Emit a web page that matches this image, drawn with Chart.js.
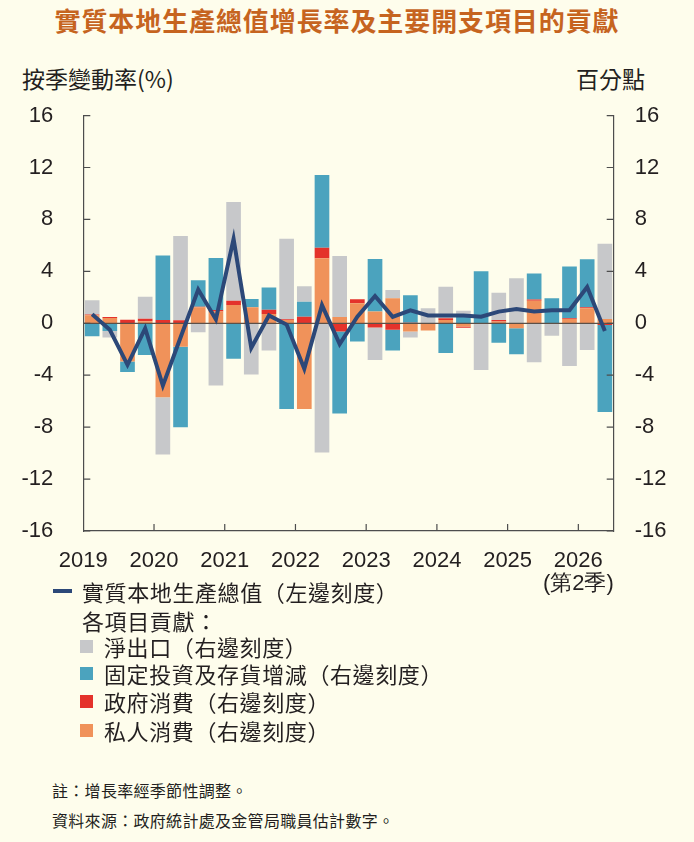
<!DOCTYPE html>
<html lang="zh-Hant">
<head>
<meta charset="utf-8">
<title>實質本地生產總值增長率及主要開支項目的貢獻</title>
<script src="https://cdn.jsdelivr.net/npm/chart.js@4.4.1/dist/chart.umd.min.js"></script>
<style>
  body {
    margin: 0;
    width: 694px;
    height: 842px;
    position: relative;
    overflow: hidden;
    background: #fefdec;
    font-family: 'Noto Sans CJK TC', 'Noto Sans', sans-serif;
    color: #231f20;
  }
  .abs { position: absolute; white-space: nowrap; }
  #title {
    left: -10px; width: 694px; top: 6px;
    text-align: center;
    font-size: 26px; line-height: 28px; font-weight: bold;
    letter-spacing: 0.9px;
    color: #c6641f;
  }
  .unit { top: 66px; font-size: 23px; line-height: 24px; }
  /* chart area lands at 83..614 x 115..531 */
  #wrap { position: absolute; left: 0; top: 74px; width: 694px; height: 537px; }
  .leg { font-size: 22px; line-height: 26px; letter-spacing: 0.6px; }
  .sw { position: absolute; width: 13px; height: 13px; }
  .note { font-size: 16px; line-height: 20px; left: 52px; letter-spacing: 0.3px; }
</style>
</head>
<body>
<div id="title" class="abs">實質本地生產總值增長率及主要開支項目的貢獻</div>
<div class="abs unit" style="left:22px">按季變動率(%)</div>
<div class="abs unit" style="right:49px">百分點</div>

<div id="wrap"><canvas id="gdpChart"></canvas></div>

<div class="abs" style="left:53px; top:589px; width:19px; height:4px; background:#2c4878"></div>
<div class="abs leg" style="left:82px; top:578px">實質本地生產總值（左邊刻度）</div>
<div class="abs leg" style="left:82px; top:607px">各項目貢獻：</div>
<div class="sw" style="left:80px; top:640px; background:#c7c8ca"></div>
<div class="abs leg" style="left:104px; top:633px">淨出口（右邊刻度）</div>
<div class="sw" style="left:80px; top:667px; background:#4ba3be"></div>
<div class="abs leg" style="left:104px; top:660px">固定投資及存貨增減（右邊刻度）</div>
<div class="sw" style="left:80px; top:695px; background:#e4322b"></div>
<div class="abs leg" style="left:104px; top:688px">政府消費（右邊刻度）</div>
<div class="sw" style="left:80px; top:724px; background:#f0925a"></div>
<div class="abs leg" style="left:104px; top:717px">私人消費（右邊刻度）</div>

<div class="abs note" style="top:780px">註：增長率經季節性調整。</div>
<div class="abs note" style="top:810px">資料來源：政府統計處及金管局職員估計數字。</div>

<script>
// quarters 2019 Q1 .. 2026 Q2
const quarters = [
    '2019Q1', '2019Q2', '2019Q3', '2019Q4',
    '2020Q1', '2020Q2', '2020Q3', '2020Q4',
    '2021Q1', '2021Q2', '2021Q3', '2021Q4',
    '2022Q1', '2022Q2', '2022Q3', '2022Q4',
    '2023Q1', '2023Q2', '2023Q3', '2023Q4',
    '2024Q1', '2024Q2', '2024Q3', '2024Q4',
    '2025Q1', '2025Q2', '2025Q3', '2025Q4',
    '2026Q1', '2026Q2'
];

// real GDP, qoq % (left scale)
const gdpGrowth = [
    0.7, -0.5, -3.2, -0.4,
    -4.8, -1.1, 2.6, 0.3,
    6.5, -1.9, 0.6, -0.1,
    -3.5, 1.4, -1.6, 0.5,
    2.1, 0.5, 1.0, 0.6,
    0.6, 0.6, 0.5, 0.9,
    1.1, 0.9, 1.0, 1.0,
    2.8, -0.6
];

// contributions, percentage points (right scale)
const privateConsumption = [
    0.62, 0.41, -2.95, 0.15,
    -5.7, -1.8, 1.23, 0.9,
    1.41, 1.23, 0.72, 0.26,
    -6.6, 5.0, 0.49, 1.54,
    0.9, 1.92, -0.64, -0.56,
    0.25, -0.25, 0, 0.13,
    -0.38, 1.74, 0, 0.33,
    1.15, 0.33
];
const govConsumption = [
    0.05, 0.08, 0.28, 0.2,
    0.25, 0.23, 0.05, 0.13,
    0.33, 0, 0.33, 0.05,
    0.51, 0.82, -0.64, 0.31,
    -0.33, -0.5, 0.05, 0,
    0.13, -0.1, 0, 0.13,
    0, 0.1, 0, 0.05,
    0.08, -0.13
];
const investment = [
    -1.0, -0.6, -0.8, -2.45,
    4.97, -6.2, 2.03, 4.0,
    -2.74, 0.64, 1.7, -6.6,
    1.15, 5.6, -6.3, -1.4,
    4.05, -1.6, 2.1, 0,
    -2.28, 0.64, 4.0, -1.5,
    -2.0, 2.0, 1.92, 4.0,
    3.7, -6.7
];
const netExports = [
    1.1, -0.5, 0, 1.7,
    -4.4, 6.5, -0.7, -4.8,
    7.6, -3.95, -2.1, 6.2,
    1.2, -9.95, 4.7, 0,
    -2.5, 0.64, -0.46, 1.15,
    2.44, 0.33, -3.6, 2.1,
    3.46, -3.0, -0.97, -3.3,
    -2.05, 5.8
];

// year ticks sit on the quarter boundaries
const yearTicks = [0, 4, 8, 12, 16, 20, 24, 28];
const yearLabels = ['2019', '2020', '2021', '2022', '2023', '2024', '2025', ['2026', '(第2季)']];
const valueTicks = [-16, -12, -8, -4, 0, 4, 8, 12, 16];

const toPoints = (arr) => arr.map((v, i) => ({ x: i + 0.5, y: v }));

const axisColor = '#4d4d4d';

// inward tick marks + zero line under the GDP line
const chartMarks = {
    id: 'chartMarks',
    beforeDatasetDraw(chart, args) {
        if (args.index !== 0) return;
        const { ctx, chartArea } = chart;
        const y0 = chart.scales.y.getPixelForValue(0);
        ctx.save();
        ctx.strokeStyle = '#5c5047';
        ctx.lineWidth = 1.2;
        ctx.beginPath();
        ctx.moveTo(chartArea.left, y0);
        ctx.lineTo(chartArea.right, y0);
        ctx.stroke();
        ctx.restore();
    },
    afterDraw(chart) {
        const { ctx, chartArea } = chart;
        const len = 7;
        ctx.save();
        ctx.strokeStyle = axisColor;
        ctx.lineWidth = 1.2;
        ctx.beginPath();
        valueTicks.forEach((v) => {
            const yl = chart.scales.y.getPixelForValue(v);
            ctx.moveTo(chartArea.left, yl);
            ctx.lineTo(chartArea.left + len, yl);
            const yr = chart.scales.y1.getPixelForValue(v);
            ctx.moveTo(chartArea.right - len, yr);
            ctx.lineTo(chartArea.right, yr);
        });
        yearTicks.forEach((t) => {
            if (t === 0) return;
            const x = chart.scales.x.getPixelForValue(t);
            ctx.moveTo(x, chartArea.bottom);
            ctx.lineTo(x, chartArea.bottom - len);
        });
        ctx.stroke();
        ctx.restore();
    }
};

const tickFont = { size: 22, lineHeight: 1.05 };

new Chart(document.getElementById('gdpChart'), {
    type: 'bar',
    data: {
        datasets: [
            {
                type: 'line',
                label: '實質本地生產總值',
                data: toPoints(gdpGrowth),
                yAxisID: 'y',
                borderColor: '#2c4878',
                borderWidth: 4,
                pointRadius: 0,
                tension: 0,
                fill: false
            },
            {
                label: '私人消費',
                data: toPoints(privateConsumption),
                yAxisID: 'y1',
                backgroundColor: '#f0925a'
            },
            {
                label: '政府消費',
                data: toPoints(govConsumption),
                yAxisID: 'y1',
                backgroundColor: '#e4322b'
            },
            {
                label: '固定投資及存貨增減',
                data: toPoints(investment),
                yAxisID: 'y1',
                backgroundColor: '#4ba3be'
            },
            {
                label: '淨出口',
                data: toPoints(netExports),
                yAxisID: 'y1',
                backgroundColor: '#c7c8ca'
            }
        ]
    },
    options: {
        responsive: true,
        maintainAspectRatio: false,
        animation: false,
        categoryPercentage: 1,
        barPercentage: 0.83,
        layout: { padding: { top: 15.3, bottom: 15, left: 0, right: 0 } },
        plugins: {
            legend: { display: false },
            tooltip: { enabled: false }
        },
        scales: {
            x: {
                type: 'linear',
                min: 0,
                max: quarters.length,
                offset: false,
                stacked: true,
                afterBuildTicks: (axis) => { axis.ticks = yearTicks.map((v) => ({ value: v })); },
                afterFit: (axis) => { axis.height = 65; },
                grid: { display: false, offset: false },
                border: { display: true, color: axisColor, width: 1.2 },
                ticks: {
                    autoSkip: false,
                    maxRotation: 0,
                    padding: 10,
                    color: '#231f20',
                    font: tickFont,
                    callback: (v) => yearLabels[yearTicks.indexOf(v)]
                }
            },
            y: {
                position: 'left',
                min: -16,
                max: 16,
                afterFit: (axis) => { axis.width = 83.3; },
                grid: { display: false, drawTicks: false },
                border: { display: true, color: axisColor, width: 1.2 },
                ticks: { stepSize: 4, padding: 30, color: '#231f20', font: tickFont }
            },
            y1: {
                position: 'right',
                min: -16,
                max: 16,
                stacked: true,
                afterFit: (axis) => { axis.width = 80.3; },
                grid: { display: false, drawTicks: false },
                border: { display: true, color: axisColor, width: 1.2 },
                ticks: { stepSize: 4, padding: 21, color: '#231f20', font: tickFont }
            }
        }
    },
    plugins: [chartMarks]
});
</script>
</body>
</html>
